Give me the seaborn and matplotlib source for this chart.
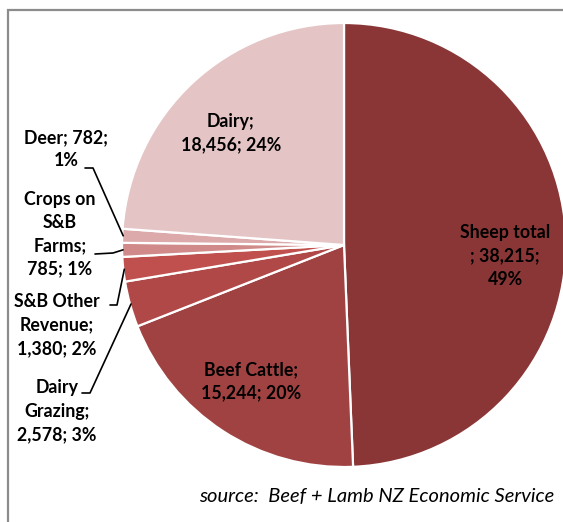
import numpy as np
import matplotlib
matplotlib.use("Agg")
import matplotlib.pyplot as plt
from matplotlib.lines import Line2D
from matplotlib.patches import Rectangle
import seaborn as sns

categories = ["Sheep total", "Beef Cattle", "Dairy Grazing", "S&B Other Revenue",
              "Crops on S&B Farms", "Deer", "Dairy"]
values = [38215, 15244, 2578, 1380, 785, 782, 18456]
percents = [49, 20, 3, 2, 1, 1, 24]
label_texts = [
    "Sheep total\n; 38,215;\n49%",
    "Beef Cattle;\n15,244; 20%",
    "Dairy\nGrazing;\n2,578; 3%",
    "S&B Other\nRevenue;\n1,380; 2%",
    "Crops on\nS&B\nFarms;\n785; 1%",
    "Deer; 782;\n1%",
    "Dairy;\n18,456; 24%",
]
colors = ["#8A3636", "#A14242", "#B04848", "#C0504D", "#D08A8A", "#DCAAAA", "#E4C4C4"]

sns.set_theme(style="white")
plt.rcParams["font.family"] = ["Lato", "DejaVu Sans"]

W, H = 563, 522
fig = plt.figure(figsize=(W / 100, H / 100), dpi=100)

def fx(x):
    return x / W

def fy(y):
    return 1 - y / H

cx, cy, r = 344, 245, 222
ax = fig.add_axes([fx(cx - r), fy(cy + r), 2 * r / W, 2 * r / H])
wedges, _ = ax.pie(values, colors=colors, startangle=90, counterclock=False,
                   radius=1.0, wedgeprops=dict(edgecolor="white", linewidth=1.6))
ax.set_xlim(-1, 1)
ax.set_ylim(-1, 1)
ax.set_aspect("equal")
ax.axis("off")

# frame
fig.add_artist(Rectangle((fx(8), fy(H + 20)), 1.2, fy(10) - fy(H + 20),
                         transform=fig.transFigure, fill=False,
                         edgecolor="#8c8c8c", linewidth=1.6, zorder=0))

fs = 12.8
ls = 1.45
# inside labels (pixel positions)
inside = {0: (505, 256), 1: (251, 381), 6: (231, 133)}
for i, (x, y) in inside.items():
    fig.text(fx(x), fy(y), label_texts[i], ha="center", va="center",
             fontsize=fs, fontweight="bold", linespacing=ls, color="black")

# outside labels with leader lines
outside = {
    5: dict(pos=(66, 149), start=(85, 168), knee=(93, 168)),
    4: dict(pos=(60, 234), start=(95, 254), knee=(113, 253)),
    3: dict(pos=(57, 325), start=(110, 305), knee=(117, 305)),
    2: dict(pos=(57, 411), start=(82, 393), knee=(90, 393)),
}
for i, d in outside.items():
    w = wedges[i]
    mid = np.deg2rad((w.theta1 + w.theta2) / 2)
    ex = cx + (r - 1) * np.cos(mid)
    ey = cy - (r - 1) * np.sin(mid)
    x, y = d["pos"]
    fig.text(fx(x), fy(y), label_texts[i], ha="center", va="center",
             fontsize=fs, fontweight="bold", linespacing=ls, color="black")
    xs = [d["start"][0], d["knee"][0], ex]
    ys = [d["start"][1], d["knee"][1], ey]
    fig.add_artist(Line2D([fx(v) for v in xs], [fy(v) for v in ys],
                          transform=fig.transFigure, color="black", linewidth=1.2))

fig.text(fx(377), fy(497), "source:  Beef + Lamb NZ Economic Service",
         ha="center", va="center", fontsize=14.5, fontstyle="italic", color="black")

fig.savefig("out.png", dpi=100, facecolor="white")
